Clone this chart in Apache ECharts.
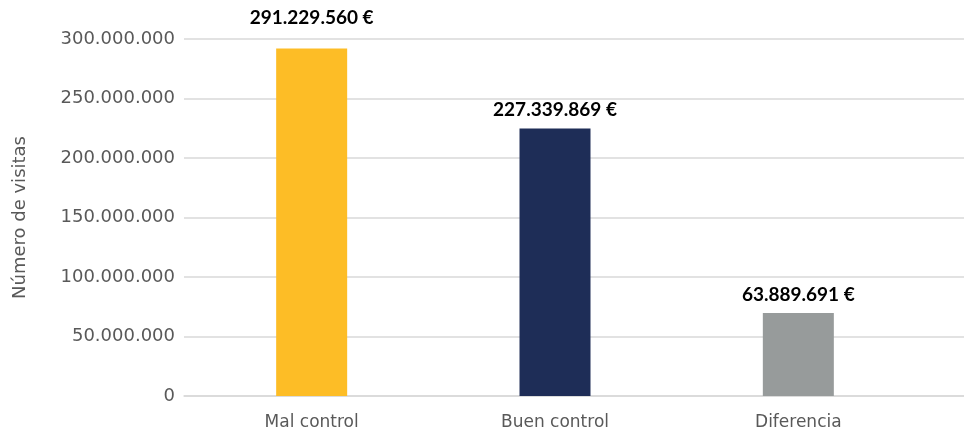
<!DOCTYPE html>
<html>
<head>
<meta charset="utf-8">
<script src="https://cdn.jsdelivr.net/npm/echarts@6/dist/echarts.min.js"></script>
<style>html,body{margin:0;padding:0;background:#fff;}#c{width:964px;height:432px;}</style>
</head>
<body>
<div id="c"></div>
<script>
const categories = ['Mal control', 'Buen control', 'Diferencia'];
const barValues = [292000000, 224700000, 69800000];
const barLabels = ['291.229.560 €', '227.339.869 €', '63.889.691 €'];
const barColors = ['#FDBD26', '#1E2D57', '#979B9B'];
const yMin = 0, yMax = 300000000, yStep = 50000000;
const yAxisName = 'Número de visitas';

const labelDistances = [21, 9, 9];

function fmt(v) {
  return String(Math.round(v)).replace(/\B(?=(\d{3})+(?!\d))/g, '.');
}

const chart = echarts.init(document.getElementById('c'));
chart.setOption({
  animation: false,
  backgroundColor: '#fff',
  grid: [
    { left: 184, right: 0, top: 39, bottom: 36 },
    { left: 190, right: 44, top: 39, bottom: 36 }
  ],
  xAxis: [
    { gridIndex: 0, type: 'category', data: categories, show: true,
      axisLine: { show: true, lineStyle: { color: '#D9D9D9', width: 1.5 } },
      axisTick: { show: false }, axisLabel: { show: false }, splitLine: { show: false } },
    { gridIndex: 1, type: 'category', data: categories,
      axisLine: { show: false }, axisTick: { show: false },
      axisLabel: { color: '#595959', fontFamily: 'DejaVu Sans', fontSize: 17, margin: 18 } }
  ],
  yAxis: [
    { gridIndex: 0, type: 'value', min: yMin, max: yMax, interval: yStep,
      name: yAxisName, nameLocation: 'middle', nameGap: 155, nameRotate: 90,
      nameTextStyle: { color: '#595959', fontFamily: 'DejaVu Sans', fontSize: 18 },
      axisLine: { show: false }, axisTick: { show: false },
      axisLabel: { color: '#595959', fontFamily: 'DejaVu Sans', fontSize: 18, margin: 9, formatter: fmt },
      splitLine: { lineStyle: { color: '#D9D9D9', width: 1.5 } } },
    { gridIndex: 1, type: 'value', min: yMin, max: yMax, interval: yStep, show: false,
      splitLine: { show: false } }
  ],
  series: [{
    type: 'bar', xAxisIndex: 1, yAxisIndex: 1,
    barWidth: 71,
    data: barValues.map((v, i) => ({
      value: v,
      itemStyle: { color: barColors[i] },
      label: { distance: labelDistances[i] }
    })),
    label: {
      show: true, position: 'top',
      color: '#000', fontFamily: 'Lato', fontWeight: 'bold', fontSize: 19,
      formatter: p => barLabels[p.dataIndex]
    }
  }]
});
</script>
</body>
</html>
